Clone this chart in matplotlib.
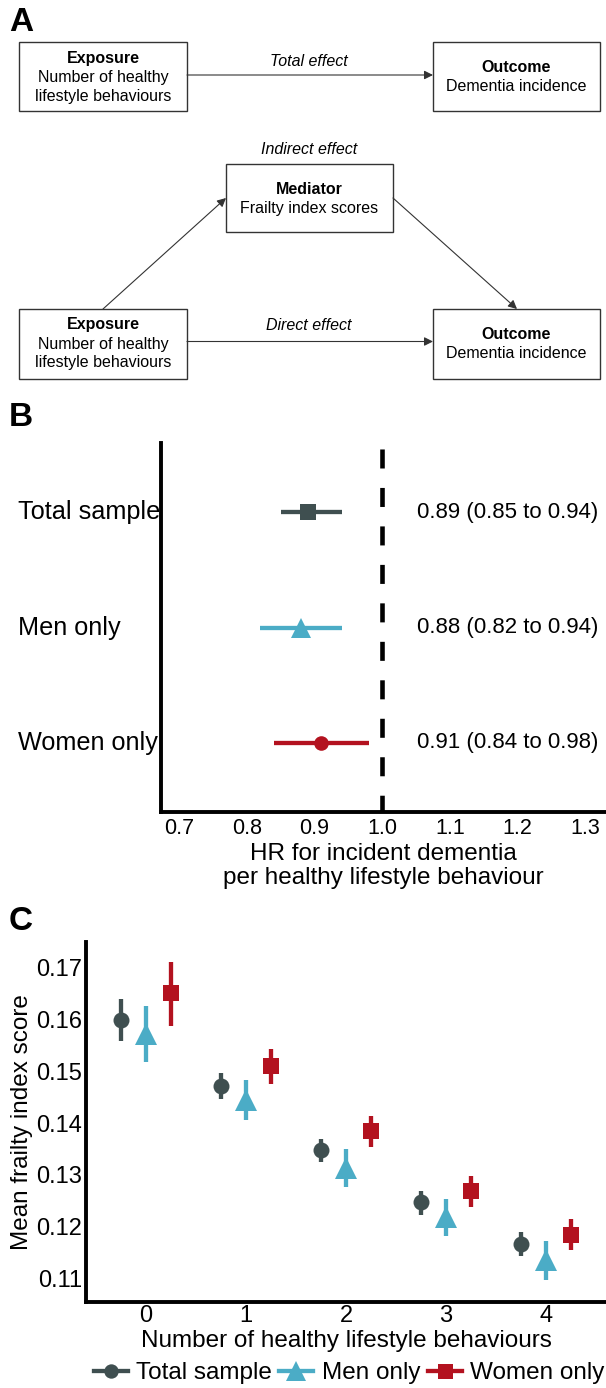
import matplotlib
matplotlib.use("Agg")
import matplotlib.pyplot as plt
from matplotlib.patches import Rectangle
from matplotlib.lines import Line2D
from matplotlib.transforms import blended_transform_factory

plt.rcParams['font.family'] = ['Liberation Sans', 'DejaVu Sans']
plt.rcParams['lines.scale_dashes'] = False

W, H = 606, 1388

# ---------------- data ----------------
groups_B = ['Total sample', 'Men only', 'Women only']
hr = [0.89, 0.88, 0.91]
hr_lo = [0.85, 0.82, 0.84]
hr_hi = [0.94, 0.94, 0.98]
b_ticks = [0.7, 0.8, 0.9, 1.0, 1.1, 1.2, 1.3]

behaviours = [0, 1, 2, 3, 4]
total_mean = [0.1600, 0.1472, 0.1347, 0.1247, 0.1166]
total_lo = [0.1559, 0.1447, 0.1324, 0.1222, 0.1142]
total_hi = [0.1639, 0.1497, 0.1370, 0.1268, 0.1189]
men_mean = [0.1573, 0.1445, 0.1313, 0.1219, 0.1135]
men_lo = [0.1518, 0.1406, 0.1276, 0.1182, 0.1097]
men_hi = [0.1627, 0.1483, 0.1349, 0.1254, 0.1171]
women_mean = [0.1651, 0.1510, 0.1384, 0.1268, 0.1183]
women_lo = [0.1588, 0.1475, 0.1353, 0.1238, 0.1154]
women_hi = [0.1711, 0.1543, 0.1414, 0.1298, 0.1214]
c_yticks = [0.11, 0.12, 0.13, 0.14, 0.15, 0.16, 0.17]

TOTAL = '#3F4F50'
MEN = '#4BACC6'
WOMEN = '#B3121F'


def fx(x):
    return x / W


def fy(y):
    return 1 - y / H


fig = plt.figure(figsize=(W / 100, H / 100), dpi=100)

# ---------------- Panel A ----------------
axA = fig.add_axes([0, fy(400), 1, 400 / H])
axA.set_xlim(0, W)
axA.set_ylim(400, 0)
axA.axis('off')

box_kw = dict(fill=False, lw=1.0, ec='#333333')
fs_a = 11.5


def box(x0, y0, x1, y1, title, lines, ty):
    axA.add_patch(Rectangle((x0, y0), x1 - x0, y1 - y0, **box_kw))
    cx = (x0 + x1) / 2
    axA.text(cx, ty, title, ha='center', va='center', fontsize=fs_a, weight='bold')
    for i, ln in enumerate(lines):
        axA.text(cx, ty + 19.0 * (i + 1), ln, ha='center', va='center', fontsize=fs_a)


box(19, 42, 187, 111, 'Exposure', ['Number of healthy', 'lifestyle behaviours'], 58.5)
box(433, 42, 600, 111, 'Outcome', ['Dementia incidence'], 67.5)
box(226, 164, 393, 232, 'Mediator', ['Frailty index scores'], 189)
box(19, 309, 187, 379, 'Exposure', ['Number of healthy', 'lifestyle behaviours'], 325)
box(433, 309, 600, 379, 'Outcome', ['Dementia incidence'], 334.5)

arr = dict(arrowstyle='-|>', lw=0.8, color='#333333', mutation_scale=13,
           shrinkA=0, shrinkB=0)
axA.annotate('', xy=(433, 75), xytext=(187, 75), arrowprops=arr)
axA.annotate('', xy=(433, 341.5), xytext=(187, 341.5), arrowprops=arr)
axA.annotate('', xy=(226, 198), xytext=(103, 309), arrowprops=arr)
axA.annotate('', xy=(517, 309), xytext=(393, 198), arrowprops=arr)

axA.text(309, 61, 'Total effect', ha='center', va='center', fontsize=fs_a, style='italic')
axA.text(309, 149, 'Indirect effect', ha='center', va='center', fontsize=fs_a, style='italic')
axA.text(309, 326, 'Direct effect', ha='center', va='center', fontsize=fs_a, style='italic')

# panel letters
for letter, yy in [('A', 22.5), ('B', 417), ('C', 921)]:
    fig.text(fx(9), fy(yy), letter, fontsize=24, weight='bold', ha='left', va='center')

# ---------------- Panel B ----------------
axB = fig.add_axes([fx(161), fy(812), 1 - fx(161), (812 - 443) / H])
axB.set_facecolor('none')
rows = [3, 2, 1]
colors_B = [TOTAL, MEN, WOMEN]
markers_B = ['s', '^', 'o']
msize_B = [11.5, 14.5, 10.5]
for r, m, lo, hi, c, mk, ms in zip(rows, hr, hr_lo, hr_hi, colors_B, markers_B, msize_B):
    axB.plot([lo, hi], [r, r], color=c, lw=3.1, solid_capstyle='butt', zorder=3)
    axB.plot([m], [r], marker=mk, color=c, ms=ms, mec=c, mew=0, ls='none', zorder=4)

axB.plot([1.0, 1.0], [3.6, 0.4], color='black', lw=3.3,
         ls=(23.4, (13.7, 14.0)), dash_capstyle='butt', zorder=2)

axB.set_xlim(0.673, 1.331)
axB.set_ylim(0.4, 3.6)
axB.set_xticks(b_ticks)
axB.set_xticklabels([f'{t:.1f}' for t in b_ticks])
axB.set_yticks([])
axB.tick_params(axis='x', length=0, pad=4, labelsize=15.5, colors='black')
for s in ['top', 'right']:
    axB.spines[s].set_visible(False)
for s in ['left', 'bottom']:
    axB.spines[s].set_linewidth(2.8)
axB.set_xlabel('HR for incident dementia\nper healthy lifestyle behaviour',
               fontsize=17.5, linespacing=1.15, labelpad=3)

trB_lab = blended_transform_factory(fig.transFigure, axB.transData)
for r, g, m, lo, hi in zip(rows, groups_B, hr, hr_lo, hr_hi):
    fig.text(fx(18), r, g, transform=trB_lab, fontsize=18.2, ha='left', va='center')
    fig.text(fx(417), r, f'{m:.2f} ({lo:.2f} to {hi:.2f})', transform=trB_lab,
             fontsize=16, ha='left', va='center')

# ---------------- Panel C ----------------
axC = fig.add_axes([fx(86), fy(1302), 1 - fx(86), (1302 - 942) / H])
axC.set_facecolor('none')
series = [
    ('Total sample', total_mean, total_lo, total_hi, TOTAL, 'o', 11.5, -0.25),
    ('Men only', men_mean, men_lo, men_hi, MEN, '^', 15.5, 0.0),
    ('Women only', women_mean, women_lo, women_hi, WOMEN, 's', 12, 0.25),
]
handles = []
for name, mean, lo, hi, c, mk, ms, off in series:
    xs = [b + off for b in behaviours]
    axC.vlines(xs, lo, hi, color=c, lw=3.1, zorder=3)
    axC.plot(xs, mean, marker=mk, color=c, ms=ms, mew=0, ls='none', zorder=4)
    handles.append(Line2D([], [], color=c, lw=3.1, marker=mk, ms=ms * 0.9, mew=0))

axC.set_xlim(-0.6, 4.6)
axC.set_ylim(0.1054, 0.175)
axC.set_xticks(behaviours)
axC.set_xticklabels([str(b) for b in behaviours])
axC.set_yticks(c_yticks)
axC.set_yticklabels([f'{t:.2f}' for t in c_yticks])
axC.tick_params(length=0, labelsize=17, colors='black')
axC.tick_params(axis='y', pad=3)
axC.tick_params(axis='x', pad=2)
for s in ['top', 'right']:
    axC.spines[s].set_visible(False)
for s in ['left', 'bottom']:
    axC.spines[s].set_linewidth(2.8)
axC.set_xlabel('Number of healthy lifestyle behaviours', fontsize=17.5, labelpad=2)
axC.set_ylabel('Mean frailty index score', fontsize=17.5, labelpad=2)

fig.legend(handles, [s[0] for s in series], loc='center',
           bbox_to_anchor=(fx(349), fy(1373)), ncol=3, frameon=False,
           fontsize=17.5, handlelength=1.4, handletextpad=0.35,
           columnspacing=0.3, borderpad=0, borderaxespad=0)

fig.savefig('out.png', dpi=100)
